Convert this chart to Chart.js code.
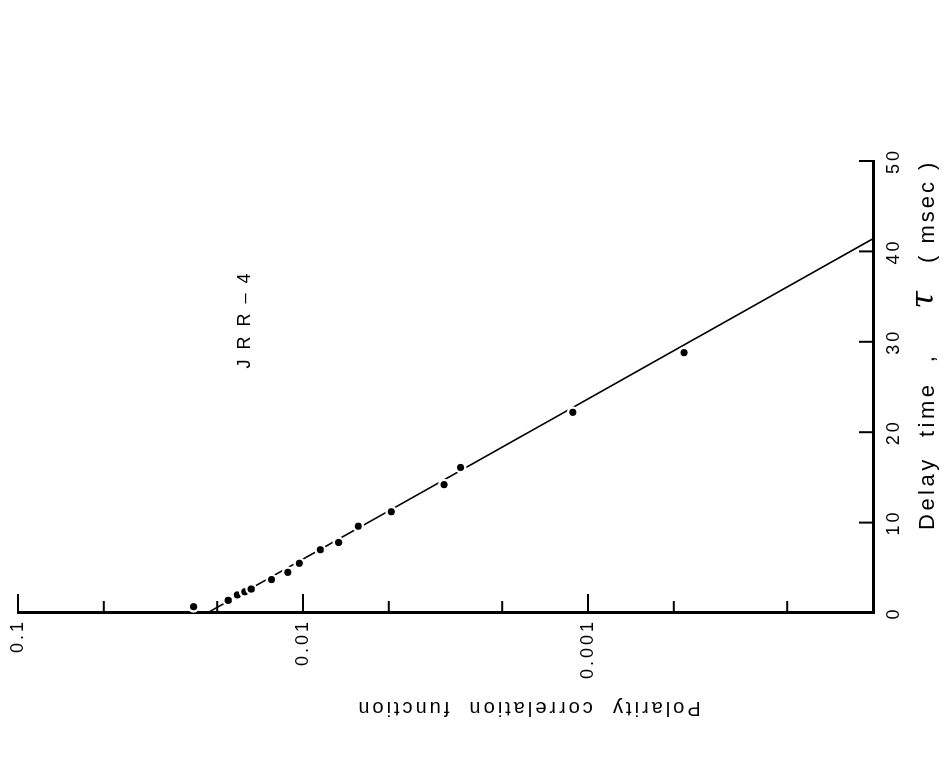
<!DOCTYPE html>
<html>
<head>
<meta charset="utf-8">
<script src="https://cdn.jsdelivr.net/npm/chart.js@4.4.1/dist/chart.umd.min.js"></script>
<style>
  html, body { margin: 0; padding: 0; background: #fff; }
  #page { position: relative; width: 946px; height: 776px; overflow: hidden; background: #fff; }
  /* chart is drawn upright (776 x 946) and turned a quarter turn, like the scanned figure */
  #turn { position: absolute; left: 0; top: 0; width: 776px; height: 946px;
          transform-origin: 0 0; transform: translate(0, 776px) rotate(-90deg); }
</style>
</head>
<body>
<div id="page"><div id="turn"><canvas id="corrChart" width="776" height="946"></canvas></div></div>
<script>
// measured points (delay time in msec, polarity correlation)
const tauPoints = [0.7, 1.4, 2.0, 2.35, 2.65, 3.7, 4.5, 5.5, 7.0, 7.8, 9.6, 11.2, 14.2, 16.1, 22.2, 28.8];
const corrPoints = [0.0242, 0.0183, 0.0170, 0.0160, 0.0152, 0.0129, 0.0113, 0.0103, 0.0087, 0.0075, 0.0064, 0.0049, 0.0032, 0.0028, 0.00113, 0.00046];

// fitted straight line
const fitTau = [0, 41.4];
const fitCorr = [0.0217, 0.0001];

// axes
const delayTicks = [0, 10, 20, 30, 40, 50];
const delayTickLabels = ['0', '10', '20', '30', '40', '50'];
const corrTicks = [0.1, 0.05, 0.02, 0.01, 0.005, 0.002, 0.001, 0.0005, 0.0002];
const corrLabelValues = [0.1, 0.01, 0.001];
const corrLabels = ['0.1', '0.01', '0.001'];

const corrTitle = 'Polarity  correlation  function';
const delayTitle = 'Delay  time  ,';
const tauSymbol = 'τ';
const unitTitle = '( msec )';
const sampleName = 'JRR–4';
const sampleAt = { x: 32.3, y: 0.016 };

const FONT = '"Liberation Sans", Arial, sans-serif';

const inwardTicks = {
    id: 'inwardTicks',
    beforeDraw(chart) {
        chart.ctx.letterSpacing = '3px';
    },
    afterDraw(chart) {
        const { ctx, chartArea: ca, scales: { x, y } } = chart;
        ctx.save();
        ctx.strokeStyle = '#000';
        ctx.lineWidth = 2;
        delayTicks.forEach(v => {
            if (v === 0) return;
            const px = x.getPixelForValue(v);
            ctx.beginPath();
            ctx.moveTo(px, ca.bottom);
            ctx.lineTo(px, ca.bottom - 14);
            ctx.stroke();
        });
        corrTicks.forEach(v => {
            const lg = Math.log10(v);
            const len = Math.abs(lg - Math.round(lg)) < 1e-6 ? 19 : 12;
            const py = y.getPixelForValue(v);
            ctx.beginPath();
            ctx.moveTo(ca.left, py);
            ctx.lineTo(ca.left + len, py);
            ctx.stroke();
        });
        ctx.restore();

        // axis titles and sample name
        ctx.save();
        ctx.fillStyle = '#000';
        ctx.textBaseline = 'middle';

        ctx.save();
        ctx.translate(68, ca.top + 510);
        ctx.rotate(-Math.PI / 2);
        ctx.font = '20px ' + FONT;
        ctx.letterSpacing = '3px';
        ctx.textAlign = 'center';
        ctx.fillText(corrTitle, 0, 0);
        ctx.restore();

        ctx.font = '22px ' + FONT;
        ctx.letterSpacing = '3.5px';
        ctx.textAlign = 'left';
        ctx.fillText(delayTitle, ca.left + 83, 928);
        ctx.letterSpacing = '3px';
        ctx.fillText(unitTitle, ca.left + 350, 928);
        ctx.font = 'italic 32px "DejaVu Serif", serif';
        ctx.letterSpacing = '0px';
        ctx.textAlign = 'center';
        ctx.fillText(tauSymbol, ca.left + 313, 925);

        ctx.font = '18px ' + FONT;
        ctx.letterSpacing = '10px';
        ctx.textAlign = 'center';
        ctx.fillText(sampleName, x.getPixelForValue(sampleAt.x) + 5, y.getPixelForValue(sampleAt.y));
        ctx.restore();
    }
};

const ctx = document.getElementById('corrChart').getContext('2d');

const chart = new Chart(ctx, {
    type: 'scatter',
    data: {
        datasets: [
            {
                label: 'JRR-4',
                data: tauPoints.map((t, i) => ({ x: t, y: corrPoints[i] })),
                showLine: false,
                pointRadius: 4.8,
                pointBackgroundColor: '#000',
                pointBorderColor: '#fff',
                pointBorderWidth: 2.4
            },
            {
                label: 'fit',
                data: fitTau.map((t, i) => ({ x: t, y: fitCorr[i] })),
                showLine: true,
                borderColor: '#000',
                borderWidth: 1.6,
                pointRadius: 0,
                fill: false
            }
        ]
    },
    options: {
        responsive: false,
        devicePixelRatio: 1,
        animation: false,
        layout: { padding: { top: 18, right: 161, bottom: 0, left: 0 } },
        plugins: {
            legend: { display: false },
            tooltip: { enabled: false }
        },
        scales: {
            x: {
                type: 'linear',
                position: 'bottom',
                min: 0,
                max: 50,
                afterBuildTicks: s => { s.ticks = delayTicks.map(v => ({ value: v })); },
                afterFit: s => { s.height = 73; s.paddingLeft = 0; s.paddingRight = 0; },
                grid: { display: false, drawTicks: false },
                border: { display: true, color: '#000', width: 3 },
                ticks: {
                    color: '#000',
                    font: { family: FONT, size: 18 },
                    padding: 10,
                    maxRotation: 0,
                    callback: (v, i) => delayTickLabels[i]
                }
            },
            y: {
                type: 'logarithmic',
                position: 'left',
                min: 0.0001,
                max: 0.1,
                afterBuildTicks: s => { s.ticks = corrLabelValues.map(v => ({ value: v })); },
                afterFit: s => { s.width = 163; s.paddingTop = 0; s.paddingBottom = 0; },
                grid: { display: false, drawTicks: false },
                border: { display: true, color: '#000', width: 3 },
                ticks: {
                    color: '#000',
                    font: { family: FONT, size: 18 },
                    padding: 6,
                    callback: (v, i) => corrLabels[i]
                }
            }
        }
    },
    plugins: [inwardTicks]
});
</script>
</body>
</html>
